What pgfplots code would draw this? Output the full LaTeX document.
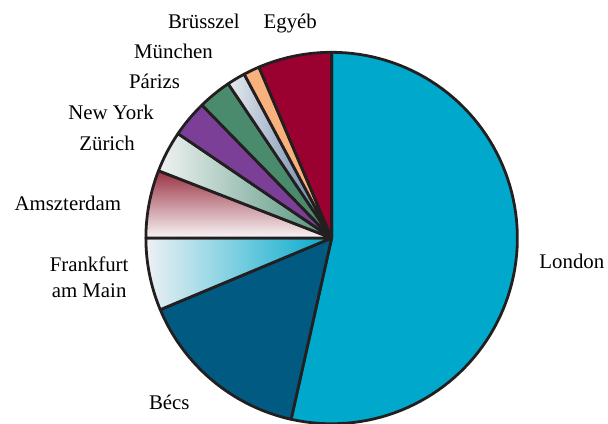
\documentclass[border=0pt]{standalone}
\usepackage{fontspec}
\setmainfont{Liberation Serif}
\usepackage{pgfplots}
\usepackage{pgfplotstable}
\pgfplotsset{compat=1.18}

\definecolor{cLondon}{HTML}{00A9CB}
\definecolor{cBecs}{HTML}{005A82}
\definecolor{cNY}{HTML}{7B3F98}
\definecolor{cParis}{HTML}{4A8B6E}
\definecolor{cBrux}{HTML}{F8B07C}
\definecolor{cOther}{HTML}{9A0030}
\definecolor{cOutline}{HTML}{231F20}
\definecolor{cAmsTop}{HTML}{9A3242}
\definecolor{cAmsBot}{HTML}{F8F5F6}
\definecolor{cFraL}{HTML}{EEF1F4}
\definecolor{cZurL}{HTML}{F0F3F3}
\definecolor{cZurR}{HTML}{4E9078}
\definecolor{cMunL}{HTML}{E6EAEE}
\definecolor{cMunR}{HTML}{5878A0}

\tikzset{lbl/.style={inner sep=0pt, font=\fontsize{21}{24}\selectfont}}

% shares in percent, clockwise from 12 o'clock
\pgfplotstableread{
row value
0 53.5
1 15.2
2 6.3
3 5.9
4 3.6
5 3.2
6 2.9
7 1.6
8 1.4
9 6.4
}\piedata

\begin{document}
\gdef\cum{0}%
\pgfplotstableforeachcolumnelement{value}\of\piedata\as\v{%
  \expandafter\xdef\csname sa\pgfplotstablerow\endcsname{\cum}%
  \pgfmathsetmacro\tmp{\cum+\v*3.6}%
  \xdef\cum{\tmp}%
  \expandafter\xdef\csname sb\pgfplotstablerow\endcsname{\cum}%
}%
\newcommand\slice[2]{%
  \edef\sa{\csname sa#1\endcsname}\edef\sb{\csname sb#1\endcsname}%
  \edef\doslice{\noexpand\addplot[\unexpanded{#2}, draw=cOutline, line width=2.8bp, line join=round, domain=\sa:\sb, samples=90]
    ({330.5+186.5*sin(x)},{239-186.5*cos(x)}) -- (axis cs:330.5,239) -- cycle;}%
  \doslice
}
\begin{tikzpicture}
\begin{axis}[x=1bp, y=1bp, y dir=reverse, xmin=0, xmax=608, ymin=0, ymax=425,
  hide axis, clip=false]
\slice{0}{fill=cLondon}
\slice{1}{fill=cBecs}
\slice{2}{left color=cFraL, right color=cLondon}
\slice{3}{top color=cAmsTop, bottom color=cAmsBot}
\slice{4}{left color=cZurL, right color=cZurR}
\slice{5}{fill=cNY}
\slice{6}{fill=cParis}
\slice{7}{left color=cMunL, right color=cMunR}
\slice{8}{fill=cBrux}
\slice{9}{fill=cOther}

\node[lbl, anchor=base west] at (axis cs:539,269.3) {London};
\node[lbl, anchor=base west] at (axis cs:147,411) {Bécs};
\node[lbl, anchor=base] at (axis cs:87,272.7) {Frankfurt};
\node[lbl, anchor=base] at (axis cs:87,298.3) {am Main};
\node[lbl, anchor=base west] at (axis cs:12,211) {Amszterdam};
\node[lbl, anchor=base west] at (axis cs:77,150.7) {Zürich};
\node[lbl, anchor=base west] at (axis cs:66,120) {New York};
\node[lbl, anchor=base west] at (axis cs:127,89.3) {Párizs};
\node[lbl, anchor=base west] at (axis cs:132,58.3) {München};
\node[lbl, anchor=base west] at (axis cs:166,28.3) {Brüsszel};
\node[lbl, anchor=base west] at (axis cs:262,28.3) {Egyéb};
\coordinate (TL) at (axis cs:0,0);
\coordinate (BR) at (axis cs:608,425);
\end{axis}
\pgfresetboundingbox
\useasboundingbox (TL) rectangle (BR);
\end{tikzpicture}
\end{document}
